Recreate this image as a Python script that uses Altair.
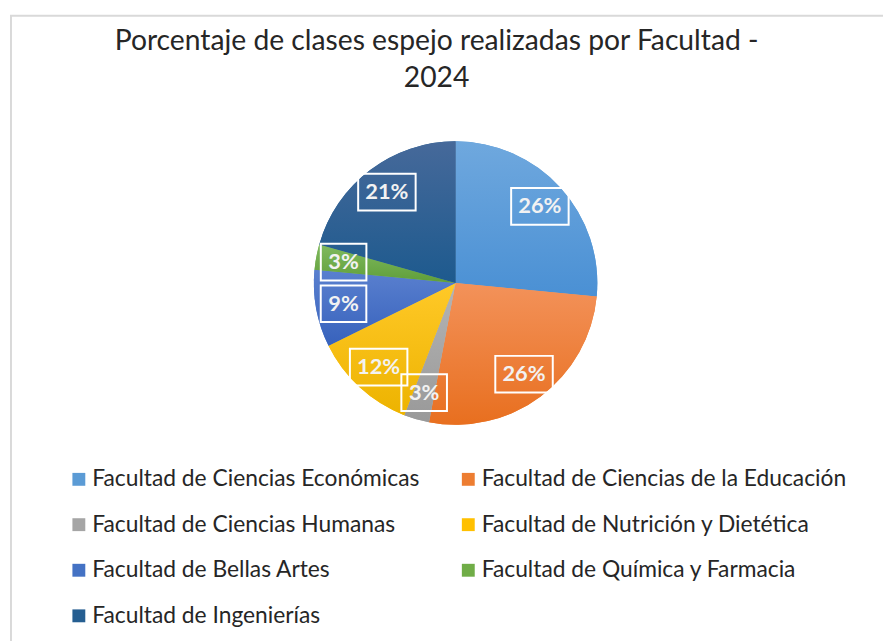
import altair as alt
import pandas as pd

# ---- data ----
facultades = [
    "Facultad de Ciencias Económicas",
    "Facultad de Ciencias de la Educación",
    "Facultad de Ciencias Humanas",
    "Facultad de Nutrición y Dietética",
    "Facultad de Bellas Artes",
    "Facultad de Química y Farmacia",
    "Facultad de Ingenierías",
]
porcentajes = [26.5, 26.5, 2.9, 11.8, 8.8, 2.9, 20.6]
etiquetas = ["26%", "26%", "3%", "12%", "9%", "3%", "21%"]

# ---- styles ----
solid_colors = ["#5B9BD5", "#ED7D31", "#A5A5A5", "#FFC000", "#4472C4", "#70AD47", "#255E91"]
grad_top = ["#6FA8DE", "#F3925A", "#B4B4B4", "#FFC928", "#5A80CF", "#80BA5E", "#46699A"]
grad_bot = ["#4A90D4", "#E86F1F", "#999999", "#EDB300", "#3762BC", "#5F9E3A", "#1D5A8E"]

FONT = "Lato"
CX, CY, R = 451.7, 274.7, 143
RLAB = 115

df = pd.DataFrame({
    "orden": list(range(len(facultades))),
    "facultad": facultades,
    "valor": porcentajes,
    "etiqueta": etiquetas,
})


def base():
    return (
        alt.Chart(df)
        .transform_joinaggregate(total="sum(valor)")
        .transform_window(cum="sum(valor)", sort=[alt.SortField("orden")], frame=[None, 0])
        .transform_calculate(
            t1="2*PI*datum.cum/datum.total",
            t0="2*PI*(datum.cum-datum.valor)/datum.total",
        )
        .transform_calculate(mid="(datum.t0+datum.t1)/2")
        .transform_calculate(
            bx=f"{RLAB}*sin(datum.mid)",
            by=f"-{RLAB}*cos(datum.mid)",
        )
    )


arc_enc = dict(
    theta=alt.Theta("t0:Q", scale=None),
    theta2="t1:Q",
    x=alt.value(CX),
    y=alt.value(CY),
)

pie = base().mark_arc(outerRadius=R).encode(
    color=alt.Color(
        "facultad:N",
        scale=alt.Scale(domain=facultades, range=solid_colors),
        sort=facultades,
        legend=alt.Legend(
            title=None,
            orient="none",
            direction="horizontal",
            legendX=60,
            legendY=461,
            columns=2,
            columnPadding=37,
            rowPadding=22,
            symbolType="square",
            symbolSize=169,
            symbolStrokeWidth=0,
            labelFont=FONT,
            labelFontSize=23,
            labelColor="#262626",
            labelOffset=2,
            labelLimit=500,
            padding=0,
        ),
    ),
    **arc_enc,
)

grad_layers = []
for name, top, bot in zip(facultades, grad_top, grad_bot):
    grad_layers.append(
        base()
        .transform_filter(alt.datum.facultad == name)
        .mark_arc(
            outerRadius=R,
            fill=alt.Gradient(
                gradient="linear",
                stops=[alt.GradientStop(color=top, offset=0), alt.GradientStop(color=bot, offset=1)],
                x1=0, x2=0, y1=0, y2=1,
            ),
        )
        .encode(**arc_enc)
    )

xs = alt.Scale(domain=[-R, R], range=[CX - R, CX + R])
ys = alt.Scale(domain=[-R, R], range=[CY - R, CY + R])

boxes = base().mark_point(filled=False, stroke="white", strokeWidth=2, size=400, opacity=1).encode(
    x=alt.X("bx:Q", scale=xs, axis=None),
    y=alt.Y("by:Q", scale=ys, axis=None),
    shape=alt.condition(
        "length(datum.etiqueta) > 2",
        alt.value("M-2.9,-1.85L2.9,-1.85L2.9,1.85L-2.9,1.85Z"),
        alt.value("M-2.3,-1.85L2.3,-1.85L2.3,1.85L-2.3,1.85Z"),
    ),
)

texts = base().mark_text(
    font=FONT, fontSize=22, fontWeight="bold", color="#F2F2F2", align="center", baseline="middle"
).encode(
    x=alt.X("bx:Q", scale=xs, axis=None),
    y=alt.Y("by:Q", scale=ys, axis=None),
    text="etiqueta:N",
)

one = alt.Data(values=[{"a": 1}])
border_left = alt.Chart(one).mark_rule(color="#D9D9D9", strokeWidth=2).encode(
    x=alt.value(3), y=alt.value(5), y2=alt.value(700)
)
border_top = alt.Chart(one).mark_rule(color="#D9D9D9", strokeWidth=2).encode(
    x=alt.value(2), x2=alt.value(900), y=alt.value(5)
)

chart = alt.layer(border_left, border_top, pie, *grad_layers, boxes, texts).properties(
    width=883,
    height=633,
    padding=0,
    autosize=alt.AutoSizeParams(type="none"),
    title=alt.TitleParams(
        text=["Porcentaje de clases espejo realizadas por Facultad -", "2024"],
        font=FONT,
        fontSize=28.5,
        fontWeight="normal",
        color="#262626",
        anchor="middle",
        frame="group",
        baseline="top",
        lineHeight=37,
        offset=-82,
        dx=-9,
    ),
).configure_view(strokeWidth=0)

chart.save("out.html", embed_options={"renderer": "svg", "actions": False})
